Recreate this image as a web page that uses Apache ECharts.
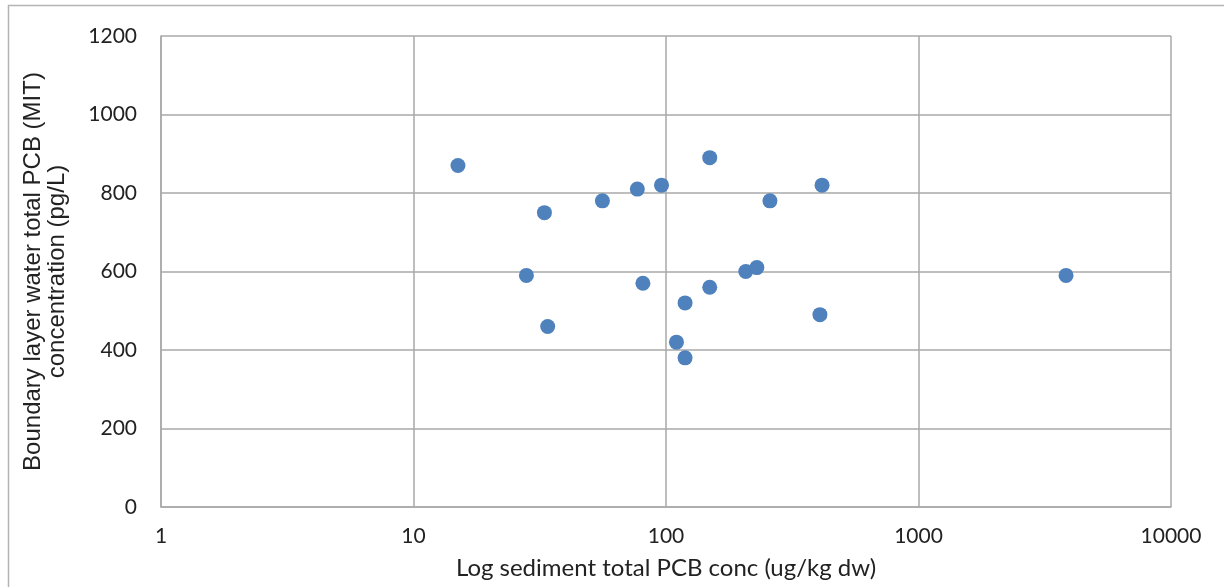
<!DOCTYPE html>
<html>
<head>
<meta charset="utf-8">
<script src="https://cdn.jsdelivr.net/npm/echarts@6/dist/echarts.min.js"></script>
<style>
html,body{margin:0;padding:0;background:#fff;}
#c{width:1224px;height:587px;}
</style>
</head>
<body>
<div id="c"></div>
<script>
// sediment total PCB conc (ug/kg dw)
const sediment = [15, 33, 28, 34, 56, 77, 96, 81, 149, 149, 119, 110, 119, 207, 229, 258, 415, 407, 3840];
// boundary layer water total PCB (pg/L)
const water = [870, 750, 590, 460, 780, 810, 820, 570, 890, 560, 520, 420, 380, 600, 610, 780, 820, 490, 590];
const xTicks = [1, 10, 100, 1000, 10000];
const yTicks = [0, 200, 400, 600, 800, 1000, 1200];

const points = sediment.map((s, i) => [s, water[i]]);
const gridColor = '#a9a9a9';
const tickFont = 'Lato, "Open Sans", sans-serif';

const chart = echarts.init(document.getElementById('c'), null, {renderer: 'canvas'});
chart.setOption({
  backgroundColor: '#fff',
  animation: false,
  graphic: [{
    type: 'rect', left: 6, top: 3,
    shape: {width: 1240, height: 620},
    style: {fill: 'none', stroke: '#b4b4b4', lineWidth: 1.5},
    silent: true, z: -1
  }],
  grid: {left: 161, right: 53, top: 36, bottom: 80, containLabel: false, outerBoundsMode: 'none'},
  xAxis: {
    type: 'log', logBase: 10, min: xTicks[0], max: xTicks[xTicks.length - 1],
    name: 'Log sediment total PCB conc (ug/kg dw)',
    nameLocation: 'middle', nameGap: 49,
    nameTextStyle: {fontFamily: tickFont, fontSize: 24, color: '#222'},
    axisLine: {show: true, lineStyle: {color: gridColor, width: 1.5}},
    axisTick: {show: false},
    splitLine: {show: true, lineStyle: {color: gridColor, width: 1.5}},
    axisLabel: {fontFamily: tickFont, fontSize: 21, color: '#222', margin: 19,
      formatter: v => String(Math.round(v))}
  },
  yAxis: {
    type: 'value', min: yTicks[0], max: yTicks[yTicks.length - 1], interval: 200,
    name: 'Boundary layer water total PCB (MIT)\nconcentration (pg/L)',
    nameLocation: 'middle', nameGap: 92, nameRotate: 90,
    nameTextStyle: {fontFamily: '"Liberation Sans", Arial, sans-serif', fontSize: 24, color: '#222', lineHeight: 24, align: 'center'},
    axisLine: {show: true, lineStyle: {color: gridColor, width: 1.5}},
    axisTick: {show: false},
    splitLine: {show: true, lineStyle: {color: gridColor, width: 1.5}},
    axisLabel: {fontFamily: tickFont, fontSize: 21, color: '#222', margin: 24,
      formatter: v => String(v)}
  },
  series: [{
    type: 'scatter',
    data: points,
    symbol: 'circle',
    symbolSize: 15,
    itemStyle: {color: '#4f81bd', opacity: 1}
  }]
});
</script>
</body>
</html>
